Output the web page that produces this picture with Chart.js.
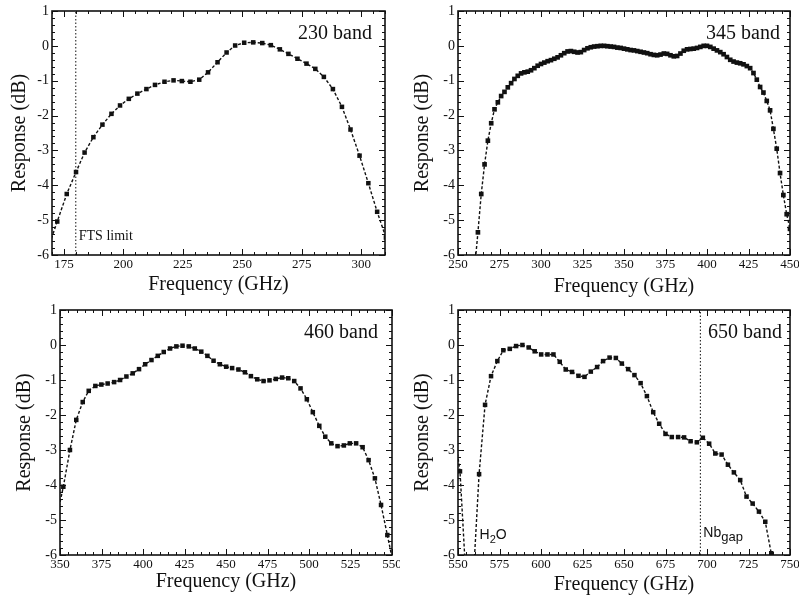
<!DOCTYPE html>
<html>
<head>
<meta charset="utf-8">
<script src="https://cdn.jsdelivr.net/npm/chart.js@4"></script>
<style>
  body { margin: 0; background: #fff; }
  canvas { position: absolute; }
</style>
</head>
<body>
<canvas id="c230" width="400" height="300" style="left:0;top:0"></canvas>
<canvas id="c345" width="399" height="300" style="left:400px;top:0"></canvas>
<canvas id="c460" width="400" height="304" style="left:0;top:300px"></canvas>
<canvas id="c650" width="399" height="304" style="left:400px;top:300px"></canvas>
<script>
// response curves (GHz, dB); first/last points fall outside the axes
const freq230 = [168.4, 172.2, 176.2, 180.1, 183.7, 187.4, 191.2, 195.0, 198.6, 202.3, 205.9, 209.7, 213.3, 217.3, 221.1, 224.6, 228.2, 231.9, 235.6, 239.6, 243.4, 247.0, 250.8, 254.6, 258.4, 262.0, 265.8, 269.4, 273.2, 277.0, 280.7, 284.3, 288.1, 291.9, 295.5, 299.3, 303.0, 306.7, 310.4];
const resp230 = [-5.8, -5.04, -4.25, -3.62, -3.06, -2.62, -2.26, -1.95, -1.71, -1.52, -1.37, -1.24, -1.12, -1.03, -0.99, -1.01, -1.03, -0.97, -0.76, -0.47, -0.19, 0.01, 0.09, 0.10, 0.08, 0.02, -0.10, -0.23, -0.37, -0.51, -0.66, -0.89, -1.24, -1.75, -2.40, -3.15, -3.94, -4.76, -5.5];

const freq345 = [260, 262, 264, 266, 268, 270, 272, 274, 276, 278, 280, 282, 284, 286, 288, 290, 292, 294, 296, 298,
  300, 302, 304, 306, 308, 310, 312, 314, 316, 318, 320, 322, 324, 326, 328, 330, 332, 334, 336, 338,
  340, 342, 344, 346, 348, 350, 352, 354, 356, 358, 360, 362, 364, 366, 368, 370, 372, 374, 376, 378,
  380, 382, 384, 386, 388, 390, 392, 394, 396, 398, 400, 402, 404, 406, 408, 410, 412, 414, 416, 418,
  420, 422, 424, 426, 428, 430, 432, 434, 436, 438, 440, 442, 444, 446, 448, 450];
const resp345 = [-6.4, -5.35, -4.25, -3.40, -2.72, -2.22, -1.82, -1.62, -1.44, -1.32, -1.19, -1.07, -0.95, -0.86, -0.79, -0.76, -0.74, -0.70, -0.64, -0.57,
  -0.52, -0.48, -0.44, -0.41, -0.37, -0.33, -0.27, -0.21, -0.16, -0.15, -0.17, -0.19, -0.18, -0.12, -0.07, -0.04, -0.02, -0.01, 0.00, 0.00,
  -0.01, -0.02, -0.03, -0.05, -0.06, -0.08, -0.10, -0.12, -0.13, -0.15, -0.17, -0.19, -0.21, -0.24, -0.26, -0.27, -0.25, -0.22, -0.23, -0.27,
  -0.30, -0.29, -0.22, -0.14, -0.10, -0.09, -0.08, -0.06, -0.03, 0.00, 0.00, -0.03, -0.08, -0.13, -0.18, -0.24, -0.32, -0.40, -0.45, -0.48,
  -0.50, -0.53, -0.58, -0.64, -0.78, -0.97, -1.18, -1.34, -1.58, -1.85, -2.38, -2.95, -3.65, -4.28, -4.83, -5.25];

const freq460 = [348.2, 352.0, 356.0, 359.8, 363.7, 367.3, 371.3, 374.9, 378.7, 382.6, 386.2, 390.0, 393.8, 397.6, 401.3, 405.1, 408.9, 412.5, 416.3, 420.1, 423.8, 427.6, 431.2, 435.1, 438.8, 442.5, 446.3, 450.1, 453.7, 457.5, 461.4, 465.0, 468.8, 472.6, 476.2, 480.0, 483.8, 487.5, 491.1, 494.9, 498.7, 502.3, 506.2, 509.8, 513.4, 517.2, 521.0, 524.6, 528.4, 532.3, 535.9, 539.7, 543.4, 547.2, 551.0];
const resp460 = [-4.9, -4.05, -3.0, -2.14, -1.63, -1.31, -1.17, -1.13, -1.10, -1.06, -1.00, -0.90, -0.81, -0.69, -0.55, -0.43, -0.31, -0.20, -0.10, -0.04, -0.02, -0.04, -0.10, -0.19, -0.31, -0.45, -0.55, -0.62, -0.66, -0.70, -0.78, -0.89, -0.98, -1.03, -1.01, -0.97, -0.93, -0.95, -1.03, -1.24, -1.55, -1.92, -2.31, -2.62, -2.81, -2.89, -2.87, -2.81, -2.81, -2.92, -3.29, -3.81, -4.57, -5.43, -6.3];

const freq650 = [547.5, 551.2, 555.0, 558.9, 562.7, 566.3, 569.9, 573.7, 577.3, 581.2, 585.0, 588.8, 592.6, 596.2, 600.1, 603.9, 607.5, 611.3, 614.9, 618.7, 622.6, 626.2, 630.0, 633.8, 637.4, 641.3, 645.1, 648.7, 652.5, 656.3, 660.0, 663.8, 667.6, 671.2, 675.0, 678.8, 682.6, 686.2, 690.1, 693.9, 697.5, 701.3, 705.0, 708.8, 712.6, 716.2, 720.0, 723.8, 727.5, 731.3, 735.1, 738.7, 742.5];
const resp650 = [-2.4, -3.61, -6.85, -6.95, -3.69, -1.71, -0.89, -0.46, -0.15, -0.11, -0.03, 0.00, -0.07, -0.18, -0.27, -0.27, -0.27, -0.48, -0.70, -0.77, -0.88, -0.91, -0.76, -0.63, -0.46, -0.36, -0.37, -0.53, -0.69, -0.86, -1.09, -1.46, -1.92, -2.25, -2.54, -2.63, -2.63, -2.64, -2.75, -2.78, -2.65, -2.82, -3.10, -3.13, -3.42, -3.64, -3.86, -4.33, -4.53, -4.76, -5.05, -5.95, -6.8];

// tick labels
const xTicks230 = [175, 200, 225, 250, 275, 300];
const xTicks345 = [250, 275, 300, 325, 350, 375, 400, 425, 450];
const xTicks460 = [350, 375, 400, 425, 450, 475, 500, 525, 550];
const xTicks650 = [550, 575, 600, 625, 650, 675, 700, 725, 750];
const yTicks = [1, 0, -1, -2, -3, -4, -5, -6];

// marker lines
const ftsLimit = 180;
const nbGap = 696;

const SERIF = "'Liberation Serif', 'Times New Roman', serif";
const SANS = "'Liberation Sans', Arial, sans-serif";
const INK = "#111";

// frame with inward ticks on all four sides, band label and notes
function frameTicks(lay) {
  return {
    id: "frameTicks",
    afterDatasetsDraw(chart) {
      const { ctx, chartArea: a, scales } = chart;
      const xs = scales.x, ys = scales.y;
      ctx.save();
      ctx.strokeStyle = INK;
      ctx.lineWidth = 1;
      ctx.beginPath();
      for (let i = 0; xs.min + i * 5 <= xs.max + 0.01; i++) {
        const v = xs.min + i * 5;
        const px = Math.round(xs.getPixelForValue(v)) + 0.5;
        const len = v % 25 === 0 ? 6 : 3;
        ctx.moveTo(px, a.bottom); ctx.lineTo(px, a.bottom - len);
        ctx.moveTo(px, a.top); ctx.lineTo(px, a.top + len);
      }
      for (let i = 0; i <= 35; i++) {
        const v = -6 + i * 0.2;
        const py = Math.round(ys.getPixelForValue(v)) + 0.5;
        const len = i % 5 === 0 ? 6 : 3;
        ctx.moveTo(a.left, py); ctx.lineTo(a.left + len, py);
        ctx.moveTo(a.right, py); ctx.lineTo(a.right - len, py);
      }
      ctx.stroke();
      ctx.lineWidth = 1.6;
      ctx.strokeRect(a.left, a.top, a.right - a.left, a.bottom - a.top);

      ctx.fillStyle = INK;
      ctx.font = "20px " + SERIF;
      ctx.textAlign = "right";
      ctx.textBaseline = "alphabetic";
      ctx.fillText(lay.band, a.right - lay.bandInset, a.top + 28);

      ctx.textAlign = "left";
      (lay.notes || []).forEach((n) => {
        let x = xs.getPixelForValue(n.at) + n.dx;
        const y = a.bottom - n.up;
        n.parts.forEach((p) => {
          ctx.font = p.size + "px " + n.face;
          ctx.fillText(p.t, x, y + (p.shift ? p.shift : 0));
          x += ctx.measureText(p.t).width;
        });
      });
      ctx.restore();
    },
  };
}

function makePanel(id, freq, resp, xTicks, xMin, xMax, lay) {
  const datasets = [
    {
      data: freq.map((f, i) => ({ x: f, y: resp[i] })),
      borderColor: INK,
      backgroundColor: INK,
      borderWidth: 1.4,
      borderDash: [3, 2],
      pointStyle: "rect",
      pointRadius: lay.pointRadius,
      pointBorderWidth: 0,
      tension: 0,
    },
  ];
  if (lay.vline !== undefined) {
    datasets.push({
      data: [{ x: lay.vline, y: -6 }, { x: lay.vline, y: 1 }],
      borderColor: INK,
      borderWidth: 1,
      borderDash: [1.5, 2],
      pointRadius: 0,
    });
  }
  return new Chart(document.getElementById(id), {
    type: "line",
    data: { datasets },
    options: {
      responsive: false,
      animation: false,
      devicePixelRatio: 1,
      layout: { padding: { left: 0, top: lay.top, right: lay.right, bottom: 0 } },
      plugins: {
        legend: { display: false },
        tooltip: { enabled: false },
      },
      scales: {
        x: {
          type: "linear",
          min: xMin,
          max: xMax,
          grid: { display: false, drawTicks: false },
          border: { display: false },
          afterBuildTicks: (s) => { s.ticks = xTicks.map((v) => ({ value: v })); },
          afterFit: (s) => { s.height = lay.xHeight; s.paddingLeft = 0; s.paddingRight = 0; },
          ticks: { padding: 2, maxRotation: 0, autoSkip: false, color: INK, font: { family: SERIF, size: 13 } },
          title: {
            display: true,
            text: "Frequency (GHz)",
            color: INK,
            font: { family: SERIF, size: 20 },
            padding: { top: 0, bottom: lay.xTitlePad },
          },
        },
        y: {
          type: "linear",
          min: -6,
          max: 1,
          grid: { display: false, drawTicks: false },
          border: { display: false },
          afterBuildTicks: (s) => { s.ticks = yTicks.map((v) => ({ value: v })); },
          afterFit: (s) => { s.width = lay.yWidth; s.paddingTop = 0; s.paddingBottom = 0; },
          ticks: { padding: 3, autoSkip: false, color: INK, font: { family: SERIF, size: 14 } },
          title: {
            display: true,
            text: "Response (dB)",
            color: INK,
            font: { family: SERIF, size: 20 },
            padding: { top: lay.yTitlePad, bottom: 0 },
          },
        },
      },
    },
    plugins: [frameTicks(lay)],
  });
}

makePanel("c230", freq230, resp230, xTicks230, 170, 310, {
  top: 11, right: 15, yWidth: 52, xHeight: 45, yTitlePad: 8, xTitlePad: 3,
  pointRadius: 3.2, band: "230 band", bandInset: 13, vline: ftsLimit,
  notes: [{ at: ftsLimit, dx: 3, up: 15, face: SERIF, parts: [{ t: "FTS limit", size: 14 }] }],
});
makePanel("c345", freq345, resp345, xTicks345, 250, 450, {
  top: 11, right: 9, yWidth: 58, xHeight: 45, yTitlePad: 11, xTitlePad: 1,
  pointRadius: 3.3, band: "345 band", bandInset: 10,
});
makePanel("c460", freq460, resp460, xTicks460, 350, 550, {
  top: 10, right: 8, yWidth: 60, xHeight: 49, yTitlePad: 13, xTitlePad: 10,
  pointRadius: 3.2, band: "460 band", bandInset: 14,
});
makePanel("c650", freq650, resp650, xTicks650, 550, 750, {
  top: 10, right: 9, yWidth: 58, xHeight: 49, yTitlePad: 11, xTitlePad: 7,
  pointRadius: 3.2, band: "650 band", bandInset: 8, vline: nbGap,
  notes: [
    { at: 560, dx: 5, up: 16, face: SANS, parts: [{ t: "H", size: 14 }, { t: "2", size: 11, shift: 4 }, { t: "O", size: 14 }] },
    { at: nbGap, dx: 3, up: 18, face: SANS, parts: [{ t: "Nb", size: 14 }, { t: "gap", size: 13, shift: 4 }] },
  ],
});
</script>
</body>
</html>
